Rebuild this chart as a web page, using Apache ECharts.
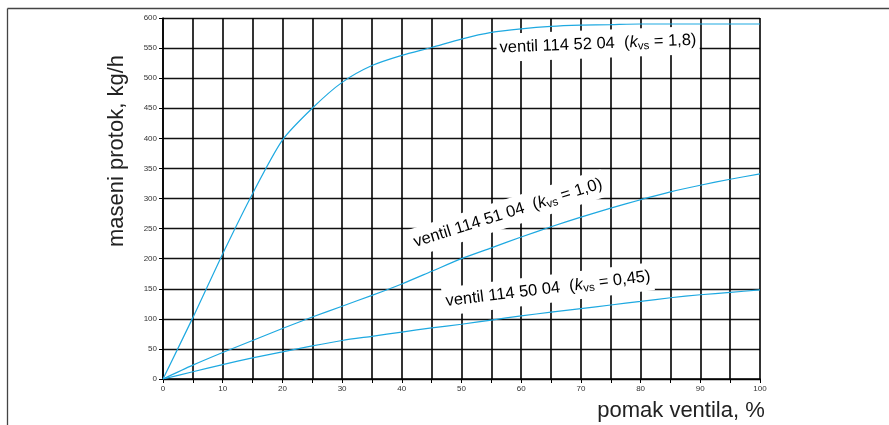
<!DOCTYPE html>
<html>
<head>
<meta charset="utf-8">
<script src="https://cdn.jsdelivr.net/npm/echarts@6/dist/echarts.min.js"></script>
<style>
html,body{margin:0;padding:0;background:#fff;}
#chart{width:889px;height:425px;}
</style>
</head>
<body>
<div id="chart"></div>
<script>
// ---- data ----
const pomak = [0,5,10,15,20,25,30,35,40,45,50,55,60,65,70,75,80,85,90,95,100];
const ventil_52 = [0,102,208,308,397,450,493,521,538,551,565,576,582,586,588,589,590,590,590,590,590];
const ventil_51 = [0,23,44,64,84,103,121,139,158,179,200,218,236,253,269,284,298,311,322,332,341];
const ventil_50 = [0,12,24,35,45,55,64,71,78,85,91,98,105,111,117,123,129,135,140,144,148];
const xTicks = [0,10,20,30,40,50,60,70,80,90,100];
const yTicks = [0,50,100,150,200,250,300,350,400,450,500,550,600];
const xName = 'pomak ventila, %';
const yName = 'maseni protok, kg/h';
const labels = [
  {id:'114 52 04', kvs:'1,8'},
  {id:'114 51 04', kvs:'1,0'},
  {id:'114 50 04', kvs:'0,45'}
];

const FONT = '"Liberation Sans", Arial, Helvetica, sans-serif';
const LINE = '#1ea9e1';
const chart = echarts.init(document.getElementById('chart'), null, {renderer:'canvas'});

function pairs(ys){ return pomak.map((x,i)=>[x, ys[i]]); }

function mkSeries(ys){
  return {
    type:'line', data:pairs(ys), showSymbol:false, symbol:'none',
    smooth:0.25,
    lineStyle:{color:LINE, width:1.2}, z:3, silent:true, animation:false
  };
}

const rich = {
  n:{fontSize:16.5, fontFamily:FONT, color:'#222', lineHeight:20},
  k:{fontSize:16.5, fontFamily:FONT, color:'#222', fontStyle:'italic', lineHeight:20},
  s:{fontSize:11.5, fontFamily:FONT, color:'#222', lineHeight:11, verticalAlign:'bottom'}
};
function labelText(l){ return '{n|ventil ' + l.id + '  (}{k|k}{s|vs}{n| = ' + l.kvs + ')}'; }

// label placement [cx, cy, angle deg]
const labelPos = [[598,44,2.3],[508,213,17.5],[548,289,7]];

const graphics = [
  {type:'line', shape:{x1:7.5,y1:8.5,x2:889,y2:8.5}, style:{stroke:'#444', lineWidth:1.3}, silent:true},
  {type:'line', shape:{x1:7.5,y1:8.5,x2:7.5,y2:425}, style:{stroke:'#444', lineWidth:1.3}, silent:true},
  {type:'text', x:117, y:151, rotation:Math.PI/2,
   style:{text:yName, fontSize:22, fontFamily:FONT, fill:'#222', align:'center', verticalAlign:'middle'}, silent:true},
  {type:'text', x:681, y:411,
   style:{text:xName, fontSize:22, fontFamily:FONT, fill:'#222', align:'center', verticalAlign:'middle'}, silent:true}
];
labels.forEach((l,i)=>{
  const p = labelPos[i];
  graphics.push({type:'text', x:p[0], y:p[1], rotation:p[2]*Math.PI/180, z:10,
    style:{text:labelText(l), rich:rich, align:'center', verticalAlign:'middle',
      backgroundColor:'#fff', padding:[4,3,4,3]}, silent:true});
});

chart.setOption({
  animation:false,
  backgroundColor:'#fff',
  grid:{left:163, right:129, top:18, bottom:46, containLabel:false},
  xAxis:{
    type:'value', min:0, max:100, interval:5,
    axisLine:{show:true, lineStyle:{color:'#000', width:1.5}},
    axisTick:{show:true, length:4, lineStyle:{color:'#000', width:1}},
    axisLabel:{fontSize:8, fontFamily:FONT, color:'#333', margin:6,
      formatter:v => xTicks.indexOf(v) >= 0 ? String(v) : ''},
    splitLine:{show:true, lineStyle:{color:'#000', width:1.6}}
  },
  yAxis:{
    type:'value', min:0, max:600, interval:50,
    axisLine:{show:true, lineStyle:{color:'#000', width:1.5}},
    axisTick:{show:true, length:4, lineStyle:{color:'#000', width:1}},
    axisLabel:{fontSize:8, fontFamily:FONT, color:'#333', margin:6,
      formatter:v => yTicks.indexOf(v) >= 0 ? String(v) : ''},
    splitLine:{show:true, lineStyle:{color:'#111', width:1.4}}
  },
  series:[mkSeries(ventil_52), mkSeries(ventil_51), mkSeries(ventil_50)],
  graphic:graphics
});
</script>
</body>
</html>
